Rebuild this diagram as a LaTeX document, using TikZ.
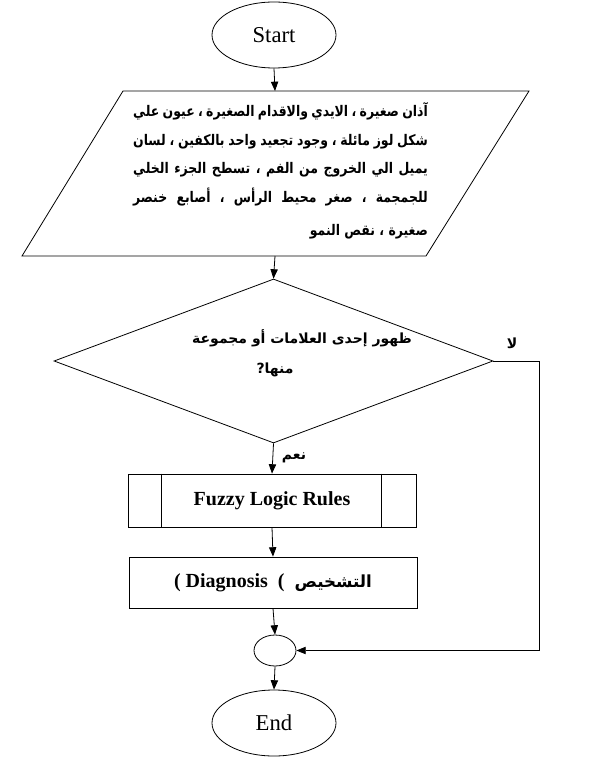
\documentclass[tikz,border=0pt]{standalone}
\usepackage{fontspec}
\setmainfont{Liberation Serif}
\newfontfamily\arabicfont[Script=Arabic]{DejaVu Sans}
\newfontfamily\arabicnarrow[Script=Arabic,FakeStretch=0.85]{DejaVu Sans}
\TeXXeTstate=1
\usetikzlibrary{shapes.geometric,arrows.meta,calc}
\newcommand{\artext}[1]{\beginR#1\endR}
\newcommand{\signline}[1]{\hbox to 221pt{\artext{#1}}}
\tikzset{
  flow/.style={draw,line width=0.6pt,inner sep=0pt},
  term/.style={flow,ellipse,minimum width=93pt,minimum height=49.5pt,font=\fontsize{17}{20}\selectfont},
  procbox/.style={flow,rectangle,minimum width=216pt,font=\fontsize{15}{18}\selectfont\bfseries},
  arabic/.style={inner sep=0pt,font=\arabicfont\bfseries\fontsize{10.5}{21.4}\selectfont},
  signtext/.style={inner sep=0pt,font=\arabicnarrow\bfseries\fontsize{11}{21.4}\selectfont},
  line/.style={line width=0.6pt},
  arrow/.style={line,-{Triangle[length=7pt,width=5.5pt]}}
}
\begin{document}
\begin{tikzpicture}[x=0.75pt,y=-0.75pt]
  \useasboundingbox (0,0) rectangle (589,766);
  \node[term] (start) at (274,35) {Start};
  \draw[line] (123,91) -- (529,91) -- (426,256) -- (22,256) -- cycle;
  \coordinate (signtop) at (275,91);
  \coordinate (signbot) at (275,256);
  \node[signtext] (sign) at (280.5,171) {\vbox{%
    \signline{آذان صغيرة ، الايدي والاقدام الصغيرة ، عيون علي}
    \signline{شكل لوز مائلة ، وجود تجعيد واحد بالكفين ، لسان}
    \signline{يميل الي الخروج من الفم ، تسطح الجزء الخلي}
    \signline{للجمجمة ، صغر محيط الرأس ، أصابع خنصر}
    \kern3.4pt
    \hbox to 221pt{\hfill\artext{صغيرة ، نقص النمو}}}};
  \node[flow,diamond,minimum width=329.25pt,minimum height=123pt] (dec) at (273.5,361) {};
  \node[arabic] (dectxt) at (302,338) {\artext{ظهور إحدى العلامات أو مجموعة}};
  \node[arabic] (dectxt2) at (275,370) {\artext{منها?}};
  \node[arabic] (yes) at (294,458) {\artext{نعم}};
  \node[arabic] (no) at (512,343) {\artext{لا}};
  \node[procbox,minimum height=39.75pt] (rules) at (272,500.5) {Fuzzy Logic Rules};
  \draw[line] ($(rules.north west)+(34,0)$) -- ($(rules.south west)+(34,0)$);
  \draw[line] ($(rules.north east)+(-35,0)$) -- ($(rules.south east)+(-35,0)$);
  \node[procbox,minimum height=38.25pt] (diag) at (273,582.5)
    {( Diagnosis\ \ ( \ {\arabicfont\fontsize{12.5}{15}\selectfont\artext{التشخيص}}};
  \node[flow,ellipse,minimum width=31.5pt,minimum height=23.25pt] (join) at (275,650.5) {};
  \node[term] (end) at (274,723) {End};
  \draw[arrow] (start.south) -- (signtop);
  \draw[arrow] (signbot) -- (dec.north);
  \draw[arrow] (dec.south) -- (rules.north);
  \draw[arrow] (rules.south) -- (diag.north);
  \draw[arrow] (diag.south) -- (join.north);
  \draw[arrow] (join.south) -- (end.north);
  \draw[arrow] (dec.east) -- ++(46,0) |- (join.east);
\end{tikzpicture}
\end{document}
